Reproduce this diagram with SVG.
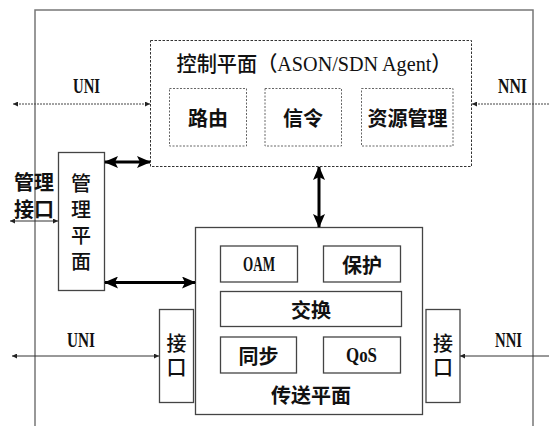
<svg xmlns="http://www.w3.org/2000/svg" width="549" height="426" viewBox="0 0 549 426">
<style>
.box{fill:#fff;stroke:#444;stroke-width:1.3}
.dbox{fill:#fff;stroke:#333;stroke-width:1;stroke-dasharray:2.5 1.5}
.dbox2{fill:#fff;stroke:#666;stroke-width:1;stroke-dasharray:2 1.5}
.cjk{font-family:"Noto Sans CJK SC","Noto Sans",sans-serif;font-size:20px;font-weight:bold;fill:#111;text-anchor:middle;dominant-baseline:central}
.cjkn{font-family:"Noto Sans CJK SC","Noto Sans",sans-serif;font-size:20px;font-weight:500;fill:#111;text-anchor:middle;dominant-baseline:central}
.title{font-family:"Liberation Serif","Noto Sans CJK SC",serif;font-size:21px;font-weight:500;fill:#111;text-anchor:middle;dominant-baseline:central}
.vert{writing-mode:vertical-rl;text-orientation:upright}
.lat{font-family:"Liberation Serif",serif;font-size:21px;font-weight:bold;fill:#111;text-anchor:middle}
.thin{stroke:#333;stroke-width:1;fill:none}
.dot{stroke:#444;stroke-width:1;fill:none;stroke-dasharray:2 1}
.thick{stroke:#000;stroke-width:3;fill:none}
</style>
<defs>
<marker id="sa" viewBox="0 0 6 6" refX="6" refY="3" markerWidth="6" markerHeight="5" markerUnits="userSpaceOnUse" orient="auto-start-reverse"><path d="M0,0 L6,3 L0,6 z" fill="#222"/></marker>
<marker id="ta" viewBox="0 0 14 12" refX="13" refY="6" markerWidth="15" markerHeight="12" markerUnits="userSpaceOnUse" orient="auto-start-reverse"><path d="M0,0 L14,6 L0,12 L3,6 z" fill="#000"/></marker>
</defs>

<g id="frame">
<path d="M35,426 V10 H533 V426" fill="none" stroke="#777" stroke-width="1.5"/>
</g>

<g id="control-plane">
<rect class="dbox" x="150.5" y="40.5" width="321" height="126"/>
<text class="title" x="314" y="64" textLength="275" lengthAdjust="spacingAndGlyphs">控制平面（ASON/SDN Agent）</text>
</g>
<g id="routing">
<rect class="dbox2" x="169.5" y="88.5" width="77" height="57.5"/>
<text class="cjk" x="208" y="117">路由</text>
</g>
<g id="signaling">
<rect class="dbox2" x="265" y="88.5" width="76.5" height="57.5"/>
<text class="cjk" x="303" y="117">信令</text>
</g>
<g id="resource-mgmt">
<rect class="dbox2" x="361.5" y="88.5" width="91.5" height="57.5"/>
<text class="cjk" x="407.5" y="117">资源管理</text>
</g>

<g id="mgmt-plane">
<rect class="box" x="58.5" y="152.5" width="46" height="138"/>
<text class="cjkn vert" x="81" y="225.5" letter-spacing="6">管理平面</text>
</g>

<g id="mgmt-interface">
<text class="cjk" x="34" y="181.5" font-size="17">管理</text>
<text class="cjk" x="34" y="208" font-size="17">接口</text>
</g>

<g id="transport-plane">
<rect class="box" x="195.5" y="227.5" width="227" height="187" stroke="#555"/>
<text class="cjk" x="311" y="394">传送平面</text>
</g>
<g id="oam">
<rect class="box" x="220.5" y="246" width="77" height="36" stroke="#333"/>
<text class="lat" x="259" y="271" textLength="32" lengthAdjust="spacingAndGlyphs">OAM</text>
</g>
<g id="protection">
<rect class="box" x="323.5" y="246" width="77" height="36" stroke="#555"/>
<text class="cjk" x="362" y="264">保护</text>
</g>
<g id="switching">
<rect class="box" x="220.5" y="291.5" width="181" height="35" stroke="#222"/>
<text class="cjk" x="311" y="309">交换</text>
</g>
<g id="sync">
<rect class="box" x="220.5" y="337" width="76" height="36" stroke="#333"/>
<text class="cjk" x="258.5" y="355">同步</text>
</g>
<g id="qos">
<rect class="box" x="323.5" y="337" width="77" height="36" stroke="#555"/>
<text class="lat" x="361.5" y="361.5" textLength="31" lengthAdjust="spacingAndGlyphs">QoS</text>
</g>

<g id="if-left">
<rect class="box" x="159.5" y="309.5" width="34" height="93"/>
<text class="cjkn vert" x="176.5" y="357" letter-spacing="4">接口</text>
</g>
<g id="if-right">
<rect class="box" x="426" y="309.5" width="34" height="93"/>
<text class="cjkn vert" x="443" y="357" letter-spacing="4">接口</text>
</g>

<g id="labels">
<text class="lat" x="86.5" y="93" textLength="27" lengthAdjust="spacingAndGlyphs">UNI</text>
<text class="lat" x="512.5" y="93" textLength="29" lengthAdjust="spacingAndGlyphs">NNI</text>
<text class="lat" x="81" y="347" textLength="28" lengthAdjust="spacingAndGlyphs" font-weight="normal">UNI</text>
<text class="lat" x="508.5" y="347" textLength="27" lengthAdjust="spacingAndGlyphs">NNI</text>
</g>

<g id="connectors">
<line class="dot" x1="13" y1="104" x2="150" y2="104" marker-start="url(#sa)" marker-end="url(#sa)"/>
<line class="dot" x1="549" y1="104" x2="472" y2="104" marker-end="url(#sa)"/>
<line class="thin" x1="10" y1="221" x2="58" y2="221" marker-start="url(#sa)" marker-end="url(#sa)"/>
<line class="thin" x1="12" y1="356" x2="159" y2="356" marker-start="url(#sa)" marker-end="url(#sa)"/>
<line class="thin" x1="549" y1="356" x2="460" y2="356" marker-end="url(#sa)"/>
<line class="thick" x1="105" y1="162" x2="150" y2="162" marker-start="url(#ta)" marker-end="url(#ta)"/>
<line class="thick" x1="105" y1="282.5" x2="195" y2="282.5" marker-start="url(#ta)" marker-end="url(#ta)"/>
<line class="thick" x1="319" y1="167" x2="319" y2="227" marker-start="url(#ta)" marker-end="url(#ta)"/>
</g>
</svg>
